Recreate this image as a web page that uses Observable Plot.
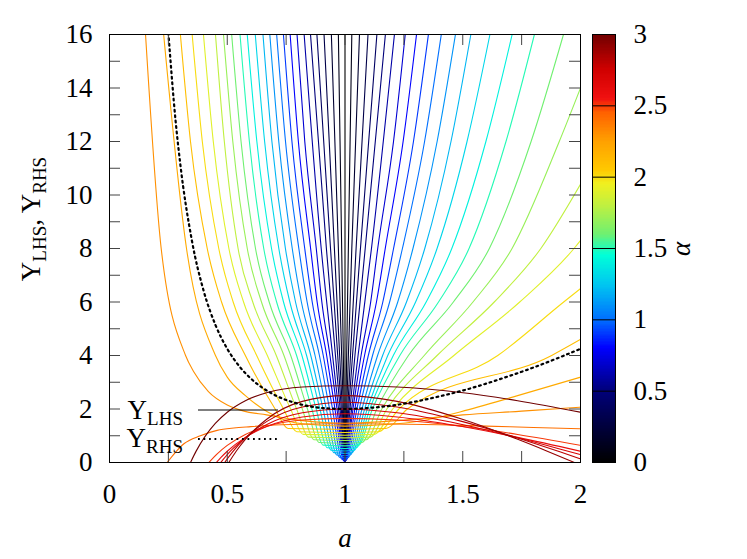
<!DOCTYPE html>
<html><head><meta charset="utf-8">
<script src="https://cdn.jsdelivr.net/npm/d3@7"></script>
<script src="https://cdn.jsdelivr.net/npm/@observablehq/plot@0.6"></script>
<style>
body{margin:0;background:#fff;}
#wrap{position:relative;width:747px;height:559px;background:#fff;}
#wrap svg{position:absolute;top:0;}
</style></head><body><div id="wrap"></div>
<script>
// ---- colour map (alpha 0..3) ----
const cmapStops  = [0, 0.5, 0.8, 1.0, 1.25, 1.45, 1.6, 1.8, 1.95, 2.05, 2.25, 2.45, 2.55, 2.75, 3];
const cmapColors = ["#000000","#00007a","#0000ff","#0070ff","#00c8f0","#00ffd8","#70f070","#c0f040","#f0f020","#ffc800","#ffa000","#ff6000","#f01010","#d00000","#700000"];

// ---- Y_LHS curves: [alpha, [[a, Y], ...]] ----
const alphaZeroLine = [[1, 0], [1, 16]];
const fanBlue = [
  [0.1, [[0.9719,16],[0.9859,8],[0.9929,4],[0.9964,2],[1,0],[1.0036,2],[1.0071,4],[1.0143,8],[1.0289,16]]],
  [0.2, [[0.9421,16],[0.9719,8],[0.9858,4],[0.9928,2],[1,0],[1.0072,2],[1.0144,4],[1.0289,8],[1.0615,16]]],
  [0.3, [[0.9110,16],[0.9550,8],[0.9773,4],[0.9886,2],[1,0],[1.0116,2],[1.0233,4],[1.0471,8],[1.0977,16]]],
  [0.4, [[0.8807,16],[0.9385,8],[0.9690,4],[0.9843,2],[1,0],[1.0159,2],[1.0320,4],[1.0656,8],[1.1354,16]]],
  [0.5, [[0.8536,16],[0.9210,8],[0.9595,4],[0.9792,2],[1,0.005],[1.0212,2],[1.0422,4],[1.0858,8],[1.1715,16]]],
  [0.6, [[0.8265,16],[0.8990,8],[0.9474,4],[0.9726,2],[1,0.012],[1.0282,2],[1.0555,4],[1.1124,8],[1.2099,16]]],
  [0.7, [[0.7963,16],[0.8292,12],[0.8780,8],[0.9017,6],[0.9361,4],[0.9660,2],[0.9964,0.055],[1,0.025],[1.0023,0.055],[1.0339,2],[1.0682,4],[1.1091,6],[1.1389,8],[1.2060,12],[1.2558,16]]],
  [0.8, [[0.7671,16],[0.8020,12],[0.8540,8],[0.8817,6],[0.9222,4],[0.9573,2],[0.9929,0.08],[1,0.05],[1.0045,0.08],[1.0419,2],[1.0830,4],[1.1336,6],[1.1709,8],[1.2468,12],[1.3037,16]]],
  [0.9, [[0.7385,16],[0.7747,12],[0.8290,8],[0.8608,6],[0.9076,4],[0.9470,2],[0.9859,0.13],[1,0.10],[1.0090,0.13],[1.0505,2],[1.0990,4],[1.1606,6],[1.2062,8],[1.2907,12],[1.3542,16]]],
  [1.0, [[0.7098,16],[0.7474,12],[0.8040,8],[0.8391,6],[0.8914,4],[0.9346,2],[0.9761,0.20],[1,0.17],[1.0155,0.20],[1.0606,2],[1.1169,4],[1.1895,6],[1.2438,8],[1.3379,12],[1.4089,16]]]
];
const fanGreen = [
  [1.1, [[0.6807,16],[0.7188,12],[0.7760,8],[0.8148,6],[0.8728,4],[0.9208,2],[0.9650,0.28],[1,0.25],[1.0229,0.28],[1.0720,2],[1.1383,4],[1.2240,6],[1.2886,8],[1.3912,12],[1.4690,16]]],
  [1.2, [[0.6517,16],[0.6896,12],[0.7470,8],[0.7899,6],[0.8547,4],[0.9069,2],[0.9528,0.37],[1,0.34],[1.0313,0.37],[1.0834,2],[1.1597,4],[1.2612,6],[1.3387,8],[1.4501,12],[1.5344,16]]],
  [1.3, [[0.6190,16],[0.6587,12],[0.7190,8],[0.7657,6],[0.8369,4],[0.8935,2],[0.9406,0.46],[1,0.43],[1.0397,0.46],[1.0945,2],[1.1815,4],[1.2998,6],[1.3909,8],[1.5182,12],[1.6154,16]]],
  [1.4, [[0.5849,16],[0.6257,12],[0.6880,8],[0.7389,6],[0.8171,4],[0.8776,2],[0.9251,0.55],[1,0.52],[1.0482,0.55],[1.1051,2],[1.2051,4],[1.3447,6],[1.4535,8],[1.5983,12],[1.7097,16]]],
  [1.5, [[0.5542,16],[0.5940,12],[0.6550,8],[0.7096,6],[0.7945,4],[0.8593,2],[0.9071,0.65],[1,0.62],[1.0577,0.65],[1.1165,2],[1.2328,4],[1.3971,6],[1.5267,8],[1.6836,12],[1.8043,16]]],
  [1.6, [[0.5188,16],[0.5586,12],[0.6200,8],[0.6781,6],[0.7695,4],[0.8406,2],[0.8896,0.75],[1,0.72],[1.0725,0.75],[1.1350,2],[1.2693,4],[1.4602,6],[1.6129,8],[1.7902,12],[1.9277,16]]],
  [1.7, [[0.4840,16],[0.5236,12],[0.5850,8],[0.6453,6],[0.7408,4],[0.8187,2],[0.8685,0.85],[1,0.82],[1.0900,0.85],[1.1563,2],[1.3364,4],[1.5434,6],[1.7094,8],[1.9098,12],[2,14.0]]],
  [1.8, [[0.4500,16],[0.4876,12],[0.5460,8],[0.6083,6],[0.7082,4],[0.7945,2],[0.8454,0.95],[1,0.92],[1.1069,0.95],[1.1777,2],[1.3910,4],[1.6338,6],[1.8316,8],[2,10.4]]],
  [1.9, [[0.3990,16],[0.4407,12],[0.5070,8],[0.5693,6],[0.6703,4],[0.7692,2],[0.8228,1.05],[1,1.02],[1.1241,1.05],[1.2025,2],[1.4623,4],[1.7419,6],[1.9724,8],[2,8.3]]],
  [2.0, [[0.3510,16],[0.3941,12],[0.4640,8],[0.5251,6],[0.6250,4],[0.7389,2],[0.7953,1.15],[1,1.12],[1.1416,1.15],[1.2288,2],[1.6487,4],[1.9286,6],[2,6.5]]],
  [2.1, [[0.3010,16],[0.3439,12],[0.4150,8],[0.4758,6],[0.5769,4],[0.7033,2],[0.7581,1.27],[1,1.24],[1.1735,1.27],[1.2649,2],[1.8776,4],[2,4.6]]]
];
const orangeCurves = [
  [2.2, [[0.23,16],[0.327,8],[0.45,4],[0.5,3.19],[0.577,2.5],[0.670,1.9],[0.741,1.6],[0.819,1.45],[1,1.36],[1.221,1.45],[1.350,1.6],[1.492,1.9],[1.733,2.5],[2,3.19]]],
  [2.3, [[0.153,16],[0.2195,8],[0.323,4],[0.357,3.4],[0.42,2.65],[0.5,2.15],[0.571,1.92],[0.667,1.78],[0.77,1.62],[0.87,1.52],[1,1.47],[1.15,1.52],[1.3,1.62],[1.5,1.78],[1.75,1.92],[2,2.07]]],
  [2.4, [[0.245,0],[0.28,0.38],[0.316,0.7],[0.386,1.0],[0.457,1.2],[0.528,1.29],[0.6,1.34],[0.7,1.4],[0.85,1.44],[1,1.45],[1.2,1.44],[1.4,1.41],[1.6,1.36],[1.8,1.31],[2,1.26]]]
];
const redArches = [
  [2.5, [[0.4219,0],[0.4584,0.334],[0.5,0.64],[0.5769,1.049],[0.6703,1.355],[0.8187,1.588],[1,1.65],[1.2214,1.588],[1.4918,1.355],[1.7333,1.049],[2,0.64]]],
  [2.6, [[0.4538,0],[0.4724,0.18],[0.5,0.42],[0.5769,0.938],[0.6703,1.353],[0.8187,1.703],[1,1.82],[1.2214,1.703],[1.4918,1.353],[1.7333,0.938],[2,0.42]]],
  [2.7, [[0.4724,0],[0.5,0.292],[0.522,0.498],[0.5769,0.924],[0.6703,1.431],[0.8187,1.858],[1,2.0],[1.2214,1.858],[1.4918,1.431],[1.7333,0.924],[1.9155,0.498],[2,0.292]]],
  [2.8, [[0.4892,0],[0.5,0.136],[0.522,0.391],[0.5769,0.919],[0.6703,1.546],[0.8187,2.074],[1,2.25],[1.2214,2.074],[1.4918,1.546],[1.7333,0.919],[1.9155,0.391],[2,0.136]]],
  [2.9, [[0.5066,0],[0.5379,0.422],[0.5769,0.865],[0.6703,1.635],[0.8187,2.284],[1,2.5],[1.2214,2.284],[1.4918,1.635],[1.7333,0.865],[1.8589,0.422],[1.9739,0]]],
  [3.0, [[0.3440,0],[0.3679,0.425],[0.4066,0.985],[0.4493,1.461],[0.5,1.88],[0.5769,2.311],[0.6703,2.616],[0.8187,2.824],[1,2.87],[1.2214,2.824],[1.4918,2.616],[1.7333,2.311],[2,1.88]]]
];
// ---- Y_RHS (dotted) ----
const rhsA = [0.25,0.28,0.3,0.35,0.4,0.45,0.5,0.55,0.6,0.7,0.8,0.9,1,1.1,1.2,1.3,1.4,1.5,1.6,1.7,1.8,1.9,2];
const rhsY = [16.06,12.83,11.2,8.29,6.41,5.14,4.25,3.61,3.14,2.53,2.2,2.04,2,2.04,2.13,2.28,2.47,2.69,2.95,3.24,3.55,3.89,4.25];
// ---- ticks ----
const xTickLabels = [0, 0.5, 1, 1.5, 2];
const yTickLabels = [0, 2, 4, 6, 8, 10, 12, 14, 16];
const xTickMarks = [0.25, 0.5, 0.75, 1, 1.25, 1.5, 1.75];
const yTickMarks = [1,2,3,4,5,6,7,8,9,10,11,12,13,14,15];
const cbTickLabels = [0, 0.5, 1, 1.5, 2, 2.5, 3];

// ---- build tables ----
function rowsOf(groups) {
  const out = [];
  for (const [alpha, pts] of groups) for (const [a, y] of pts) out.push({id: alpha, alpha, a, y});
  return out;
}
const lhsRows = rowsOf([...fanBlue, ...fanGreen, ...orangeCurves, ...redArches]);
const zeroRows = alphaZeroLine.map(([a, y]) => ({alpha: 0, a, y}));
const rhsRows = rhsA.map((a, i) => ({a, y: rhsY[i]}));

const colorSpec = {type: "linear", domain: cmapStops, range: cmapColors, interpolate: "rgb"};
const FONT = "Liberation Serif, Times New Roman, serif";
const DOTS = "1.8 3.7";

const main = Plot.plot({
  width: 747, height: 559,
  marginLeft: 109, marginRight: 167, marginTop: 34, marginBottom: 97,
  x: {domain: [0, 2]},
  y: {domain: [0, 16]},
  color: colorSpec,
  style: {fontFamily: FONT, fontSize: "27px", background: "white", overflow: "visible"},
  marks: [
    Plot.line(zeroRows, {x: "a", y: "y", stroke: "alpha", strokeWidth: 1.1}),
    Plot.line(lhsRows, {x: "a", y: "y", z: "id", stroke: "alpha", strokeWidth: 1.1, curve: "monotone-x", clip: true}),
    Plot.line(rhsRows, {x: "a", y: "y", stroke: "black", strokeWidth: 2.2, strokeDasharray: DOTS, curve: "monotone-x", clip: true}),
    Plot.ruleX(xTickMarks, {x: d => d, insetTop: 417, stroke: "#444"}),
    Plot.ruleX(xTickMarks, {x: d => d, insetBottom: 417, stroke: "#444"}),
    Plot.ruleY(yTickMarks, {y: d => d, insetRight: 460, stroke: "#444"}),
    Plot.ruleY(yTickMarks, {y: d => d, insetLeft: 460, stroke: "#444"}),
    Plot.frame({stroke: "black", strokeWidth: 1}),
    Plot.axisX(xTickLabels, {tickSize: 0, tickPadding: 21, fontSize: 27, tickFormat: d => String(d), label: null}),
    Plot.axisY(yTickLabels, {tickSize: 0, tickPadding: 17, fontSize: 27, tickFormat: d => String(d), label: null})
  ]
});

const cbSteps = d3.range(0, 3, 0.01);
const cb = Plot.plot({
  width: 167, height: 559,
  marginLeft: 12, marginRight: 132, marginTop: 34, marginBottom: 97,
  x: {domain: [0, 1], axis: null},
  y: {domain: [0, 3]},
  color: colorSpec,
  style: {fontFamily: FONT, fontSize: "27px", overflow: "visible"},
  marks: [
    Plot.rect(cbSteps, {x1: 0, x2: 1, y1: d => d, y2: d => Math.min(3, d + 0.013), fill: d => d + 0.005, shapeRendering: "crispEdges"}),
    Plot.ruleY(cbTickLabels.slice(1, -1), {y: d => d, stroke: "black", strokeWidth: 1}),
    Plot.frame({stroke: "black", strokeWidth: 1}),
    Plot.axisY(cbTickLabels, {anchor: "right", tickSize: 0, tickPadding: 18, fontSize: 27, tickFormat: d => String(d), label: null})
  ]
});

const wrap = document.getElementById("wrap");
main.style.left = "0px";
cb.style.left = "580px";
wrap.appendChild(main);
wrap.appendChild(cb);

// ---- texts & legend ----
const svg = d3.select(main);
function subText(g, parts) {
  for (const [t, size, dy] of parts) {
    g.append("tspan").attr("font-size", size).attr("dy", dy).text(t);
  }
}
const yt = svg.append("text").attr("transform", "translate(40,219) rotate(-90)")
  .attr("text-anchor", "middle").attr("font-family", FONT).attr("fill", "black");
subText(yt, [["Y", 27, 0], ["LHS", 19, 6], [", Y", 27, -6], ["RHS", 19, 6]]);

svg.append("text").attr("x", 345).attr("y", 547).attr("text-anchor", "middle")
  .attr("font-family", FONT).attr("font-size", 27).attr("font-style", "italic").text("a");

const l1 = svg.append("text").attr("x", 183).attr("y", 419).attr("text-anchor", "end").attr("font-family", FONT);
subText(l1, [["Y", 27, 0], ["LHS", 19, 6]]);
const l2 = svg.append("text").attr("x", 183).attr("y", 447).attr("text-anchor", "end").attr("font-family", FONT);
subText(l2, [["Y", 27, 0], ["RHS", 19, 6]]);
svg.append("line").attr("x1", 198).attr("x2", 278).attr("y1", 410).attr("y2", 410).attr("stroke", "black").attr("stroke-width", 1.2);
svg.append("line").attr("x1", 198).attr("x2", 278).attr("y1", 439).attr("y2", 439).attr("stroke", "black").attr("stroke-width", 2.2).attr("stroke-dasharray", DOTS);

d3.select(cb).append("text").attr("transform", "translate(110,249) rotate(-90)")
  .attr("text-anchor", "middle").attr("font-family", FONT).attr("font-size", 27).attr("font-style", "italic").text("α");
</script>
</body></html>
